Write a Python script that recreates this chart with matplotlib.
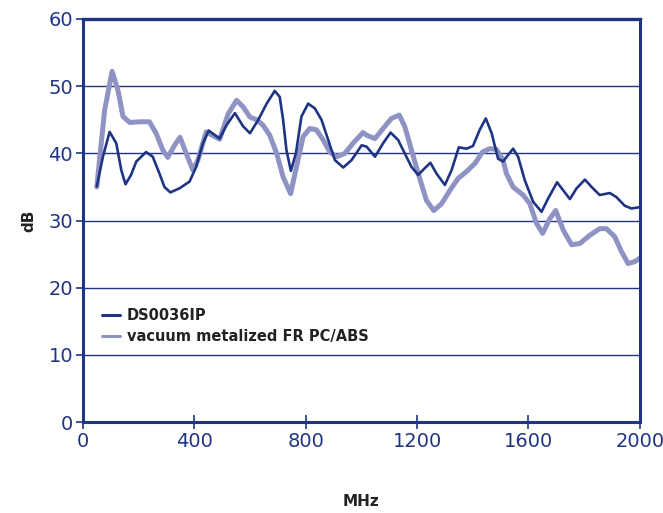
"""Shielding effectiveness: DS0036IP vs vacuum metalized FR PC/ABS."""

import matplotlib
matplotlib.use("Agg")
import matplotlib.pyplot as plt

NAVY = "#1f3584"
LIGHT = "#8f93c4"
TEXT = "#222222"

# DS0036IP
ds_mhz = [50, 72, 96, 120, 138, 153, 173, 192, 227, 251, 275, 293, 314, 347,
          383, 407, 431, 452, 491, 516, 546, 576, 600, 630, 660, 689, 707,
          719, 731, 747, 765, 785, 809, 833, 857, 881, 905, 935, 965, 1001,
          1019, 1049, 1078, 1105, 1132, 1156, 1180, 1204, 1228, 1248, 1270,
          1300, 1324, 1350, 1378, 1401, 1425, 1447, 1468, 1491, 1509, 1545,
          1563, 1587, 1617, 1647, 1671, 1703, 1725, 1749, 1773, 1803, 1827,
          1856, 1892, 1916, 1946, 1970, 2000]
ds_db = [35.1, 39.5, 43.2, 41.5, 37.5, 35.4, 36.8, 38.8, 40.2, 39.5, 37.0,
         35.0, 34.2, 34.8, 35.8, 38.0, 41.5, 43.4, 42.2, 44.2, 46.0, 44.0,
         43.0, 45.0, 47.4, 49.3, 48.4, 45.0, 40.5, 37.4, 40.0, 45.5, 47.4,
         46.7, 45.0, 42.0, 39.0, 37.9, 39.0, 41.2, 41.0, 39.5, 41.5, 43.1,
         42.0, 40.0, 38.0, 36.8, 37.8, 38.6, 37.0, 35.3, 37.5, 40.9, 40.7,
         41.1, 43.5, 45.2, 43.0, 39.2, 38.8, 40.7, 39.5, 36.0, 32.8, 31.3,
         33.3, 35.7, 34.5, 33.2, 34.8, 36.1, 35.0, 33.8, 34.1, 33.5, 32.2,
         31.8, 32.0]

# vacuum metalized FR PC/ABS
vm_mhz = [50, 78, 105, 126, 144, 168, 203, 239, 263, 287, 305, 329, 349, 371,
          395, 413, 443, 491, 522, 552, 576, 600, 624, 647, 671, 696, 719,
          746, 767, 791, 815, 839, 863, 887, 911, 941, 970, 1006, 1019, 1049,
          1078, 1108, 1136, 1156, 1180, 1208, 1234, 1260, 1288, 1318, 1348,
          1378, 1408, 1435, 1461, 1485, 1509, 1521, 1545, 1581, 1605, 1629,
          1651, 1677, 1698, 1725, 1755, 1785, 1820, 1856, 1880, 1910, 1934,
          1958, 1982, 2000]
vm_db = [35.0, 46.4, 52.2, 49.4, 45.5, 44.6, 44.7, 44.7, 43.0, 40.5, 39.4,
         41.2, 42.4, 40.0, 37.5, 39.0, 43.2, 42.1, 45.9, 47.9, 46.9, 45.4,
         45.0, 44.2, 42.7, 40.0, 36.5, 34.0, 38.0, 42.5, 43.7, 43.5, 42.0,
         40.2, 39.5, 40.0, 41.5, 43.1, 42.7, 42.2, 43.7, 45.2, 45.7, 44.0,
         40.5, 36.5, 33.0, 31.5, 32.5, 34.5, 36.3, 37.3, 38.5, 40.2, 40.7,
         40.6, 39.0, 37.0, 35.0, 33.8, 32.5, 29.6, 28.1, 30.3, 31.5, 28.6,
         26.4, 26.6, 27.8, 28.8, 28.8, 27.6, 25.4, 23.6, 23.9, 24.4]

x_ticks = [0, 400, 800, 1200, 1600, 2000]
y_ticks = [0, 10, 20, 30, 40, 50, 60]

fig = plt.figure(figsize=(6.63, 5.13), dpi=100)
ax = fig.add_axes([0.125, 0.177, 0.840, 0.786])

for y in y_ticks[1:-1]:
    ax.axhline(y, color=NAVY, lw=1.0, zorder=1)

vm_line, = ax.plot(vm_mhz, vm_db, color=LIGHT, lw=3.6, solid_joinstyle="round",
                   solid_capstyle="round", zorder=2,
                   label="vacuum metalized FR PC/ABS")
ds_line, = ax.plot(ds_mhz, ds_db, color=NAVY, lw=1.9, solid_joinstyle="round",
                   solid_capstyle="round", zorder=3, label="DS0036IP")

ax.set_xlim(0, 2000)
ax.set_ylim(0, 60)
ax.set_xticks(x_ticks)
ax.set_yticks(y_ticks)

for side in ["left", "bottom", "right"]:
    ax.spines[side].set_color(NAVY)
    ax.spines[side].set_linewidth(2.2)
ax.spines["top"].set_color(NAVY)
ax.spines["top"].set_linewidth(2.4)

ax.tick_params(axis="x", direction="inout", length=10, width=1.2, color=NAVY,
               labelcolor=NAVY, labelsize=14, pad=2)
ax.tick_params(axis="y", direction="out", length=5, width=1.2, color=NAVY,
               labelcolor=NAVY, labelsize=14, pad=2)

ax.set_xlabel("MHz", fontsize=11, fontweight="bold", color=TEXT, labelpad=31)
ax.set_ylabel("dB", fontsize=11, fontweight="bold", color=TEXT, labelpad=9)

leg = ax.legend(handles=[ds_line, vm_line], loc="upper left",
                bbox_to_anchor=(0.024, 0.298), frameon=False, fontsize=10.5,
                handlelength=1.2, handletextpad=0.5, labelspacing=0.45,
                borderaxespad=0)
for t in leg.get_texts():
    t.set_fontweight("bold")
    t.set_color(TEXT)
for h in leg.get_lines():
    h.set_linewidth(2.2)

fig.savefig("out.png", dpi=100)
